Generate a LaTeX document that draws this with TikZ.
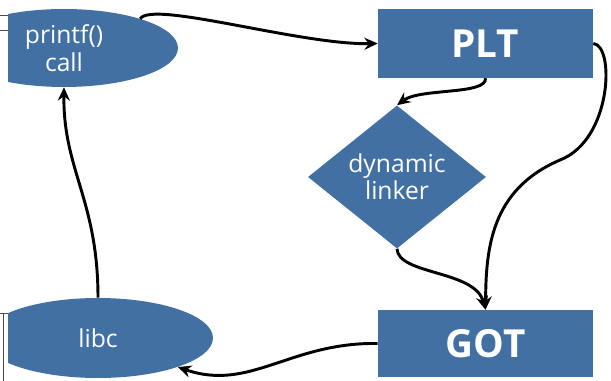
\documentclass[tikz,border=0pt]{standalone}
\usepackage{fontspec}
\setmainfont{Open Sans}
\usetikzlibrary{shapes.geometric,arrows.meta}
\definecolor{boxblue}{RGB}{66,112,163}

\begin{document}
\begin{tikzpicture}[x=0.75pt,y=0.75pt,yscale=-1,xscale=1,
  blob/.style={ellipse,fill=boxblue,text=white,inner sep=0pt,align=center,font=\fontsize{18.5}{21}\selectfont},
  tablebox/.style={rectangle,fill=boxblue,text=white,inner sep=0pt,font=\fontsize{29}{32}\selectfont\bfseries},
  flow/.style={line width=2.2pt,-{Stealth[length=10pt,width=9pt]}}]
\useasboundingbox (0,0) rectangle (611,381);

%Straight Lines (edge of the page)
\draw [line width=0.5pt,black!70] (0,15) -- (8,15) ;
\draw [line width=0.5pt,black!70] (0,30) -- (8,30) ;
\draw [line width=0.5pt,black!70] (0,313) -- (8,313) (3,313) -- (3,381) ;

%Shape: Ellipse
\begin{scope}
\clip (8,0) rectangle (611,381);
\node [blob, minimum width=171pt, minimum height=58.5pt] (printf) at (64,48) {printf()\\call};
\node [blob, minimum width=172.5pt, minimum height=60pt] (libc) at (98,338) {libc};
\end{scope}

%Shape: Rectangle
\node [tablebox, minimum width=161.25pt, minimum height=51.75pt] (plt) at (485.5,43.5) {PLT};
\node [tablebox, minimum width=161.25pt, minimum height=50.25pt] (got) at (485.5,343.5) {GOT};

%Shape: Diamond
\node [diamond, fill=boxblue, text=white, inner sep=0pt, align=center, minimum width=133.5pt, minimum height=103.5pt, font=\fontsize{18.5}{20}\selectfont] (dyn) at (397,177) {dynamic\\linker};

%Curve Lines
\draw [flow] (printf.21) .. controls (152,0) and (300,45) .. (plt.west) ;
\draw [flow] (plt.south) .. controls (487,95) and (420,88) .. (dyn.north) ;
\draw [flow] (plt.east) .. controls (615,45) and (612,140) .. (560,160) .. controls (490,190) and (486,250) .. (got.north) ;
\draw [flow] (dyn.south) .. controls (398,275) and (475,270) .. (got.north) ;
\draw [flow] (got.west) .. controls (290,342) and (250,392) .. (libc.-20) ;
\draw [flow] (libc.north) .. controls (98,200) and (63,170) .. (printf.south) ;

\end{tikzpicture}
\end{document}
